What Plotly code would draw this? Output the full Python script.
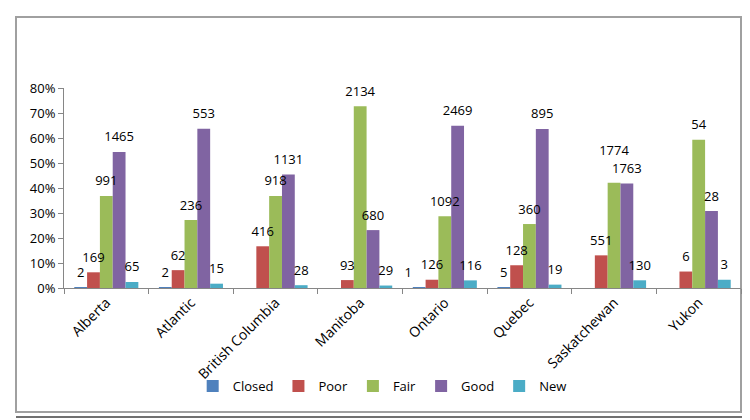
import plotly.graph_objects as go

categories = ["Alberta", "Atlantic", "British Columbia", "Manitoba",
              "Ontario", "Quebec", "Saskatchewan", "Yukon"]

series_names = ["Closed", "Poor", "Fair", "Good", "New"]

# share of sites (%) per province
closed_pct = [0.07, 0.23, None, None, 0.03, 0.36, None, None]
poor_pct = [6.28, 7.14, 16.69, 3.17, 3.31, 9.10, 13.06, 6.59]
fair_pct = [36.81, 27.19, 36.82, 72.68, 28.71, 25.59, 42.06, 59.34]
good_pct = [54.42, 63.71, 45.37, 23.16, 64.91, 63.61, 41.80, 30.77]
new_pct = [2.41, 1.73, 1.12, 0.99, 3.05, 1.35, 3.08, 3.30]

# count labels shown above bars
closed_cnt = [2, 2, None, None, 1, 5, None, None]
poor_cnt = [169, 62, 416, 93, 126, 128, 551, 6]
fair_cnt = [991, 236, 918, 2134, 1092, 360, 1774, 54]
good_cnt = [1465, 553, 1131, 680, 2469, 895, 1763, 28]
new_cnt = [65, 15, 28, 29, 116, 19, 130, 3]

colors = ["#4F81BD", "#C0504D", "#9BBB59", "#8064A2", "#4BACC6"]

values = [closed_pct, poor_pct, fair_pct, good_pct, new_pct]
counts = [closed_cnt, poor_cnt, fair_cnt, good_cnt, new_cnt]

FONT = "Open Sans"
GAP = 0.243

fig = go.Figure()
for name, vals, col in zip(series_names, values, colors):
    fig.add_trace(go.Bar(
        name=name, x=categories, y=vals,
        offsetgroup=name,
        marker=dict(color=col, line=dict(width=0)),
    ))


def label_text(name, cat, c):
    if c is None:
        return ""
    # lift the Saskatchewan "Fair" label above its twin, as in the source
    if name == "Fair" and cat == "Saskatchewan":
        return f"{c}<br>&nbsp;"
    return str(c)


def label_pos(name, cat):
    # the small Ontario "Closed" label sits left, beneath "126"
    if name == "Closed" and cat == "Ontario":
        return "top left"
    return "top center"


for name, vals, cnts in zip(series_names, values, counts):
    fig.add_trace(go.Scatter(
        x=categories, y=vals, mode="markers+text",
        offsetgroup=name,
        marker=dict(size=10, opacity=0),
        text=[label_text(name, cat, c) for cat, c in zip(categories, cnts)],
        textposition=[label_pos(name, cat) for cat in categories],
        textfont=dict(family=FONT, size=13, color="#000000"),
        cliponaxis=False, showlegend=False, hoverinfo="skip",
    ))

fig.update_layout(
    width=750, height=420,
    margin=dict(l=56, r=17, t=80, b=140),
    paper_bgcolor="white", plot_bgcolor="white",
    barmode="group", bargap=GAP, bargroupgap=0,
    scattermode="group", scattergap=GAP,
    font=dict(family=FONT, size=13, color="#000000"),
    showlegend=True,
    legend=dict(orientation="h", x=0.47, xanchor="center",
                y=-0.49, yanchor="middle",
                bgcolor="rgba(0,0,0,0)",
                font=dict(family=FONT, size=13), itemwidth=30,
                tracegroupgap=0),
    xaxis=dict(showline=True, linecolor="#868686", linewidth=1,
               ticks="outside", tickson="boundaries", ticklen=5,
               tickcolor="#868686", tickangle=-45,
               tickfont=dict(family=FONT, size=14), showgrid=False),
    yaxis=dict(range=[0, 80], dtick=10, ticksuffix="%",
               showline=True, linecolor="#868686", linewidth=1,
               ticks="outside", ticklen=5, tickcolor="#868686",
               showgrid=False, zeroline=False,
               tickfont=dict(family=FONT, size=13)),
    shapes=[
        dict(type="rect", xref="paper", yref="paper",
             x0=-0.0709, x1=1.0, y0=-0.62, y1=1.355,
             line=dict(color="#A0A0A0", width=2), layer="below"),
        dict(type="line", xref="paper", yref="paper",
             x0=-0.0709, x1=1.003, y0=-0.645, y1=-0.645,
             line=dict(color="#707070", width=2)),
    ],
)

fig.write_html("out.html")
